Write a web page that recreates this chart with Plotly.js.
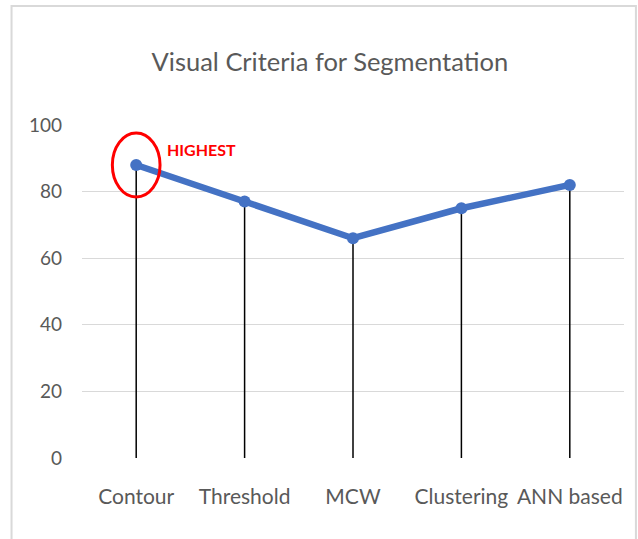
<!DOCTYPE html>
<html>
<head>
<meta charset="utf-8">
<script src="https://cdn.plot.ly/plotly-3.0.1.min.js"></script>
<style>
html,body{margin:0;padding:0;background:#fff;}
#chart{width:638px;height:539px;}
</style>
</head>
<body>
<div id="chart"></div>
<script>
const categories = ["Contour", "Threshold", "MCW", "Clustering", "ANN based"];
const values = [88, 77, 66, 75, 82];
const yTicks = [0, 20, 40, 60, 80, 100];
const chartTitle = "Visual Criteria for Segmentation";
const highlightLabel = "HIGHEST";

const FONT = "Lato, 'Open Sans', sans-serif";
const maxVal = Math.max(...values);
const maxIdx = values.indexOf(maxVal);

const trace = {
  x: categories,
  y: values,
  type: "scatter",
  mode: "lines+markers",
  line: {color: "#4472C4", width: 6.5},
  marker: {color: "#4472C4", size: 12},
  error_y: {
    type: "data",
    symmetric: false,
    array: values.map(() => 0),
    arrayminus: values,
    color: "#000000",
    thickness: 1.5,
    width: 0
  },
  hoverinfo: "x+y"
};

const layout = {
  width: 638,
  height: 539,
  margin: {l: 82, r: 14, t: 125, b: 81},
  paper_bgcolor: "#ffffff",
  plot_bgcolor: "#ffffff",
  showlegend: false,
  font: {family: FONT, color: "#595959", size: 18},
  title: {
    text: chartTitle,
    font: {family: FONT, size: 25.5, color: "#595959"},
    x: 0.517, xref: "container", xanchor: "center",
    y: 60, yref: "container", yanchor: "middle"
  },
  xaxis: {
    type: "category",
    range: [-0.5, categories.length - 0.5],
    showgrid: false,
    showline: false,
    zeroline: false,
    ticks: "",
    ticklabelstandoff: 24,
    tickfont: {family: FONT, size: 21, color: "#595959"}
  },
  yaxis: {
    range: [0, 100],
    tickvals: yTicks,
    ticktext: yTicks.map(String),
    showgrid: true,
    gridcolor: "#d9d9d9",
    gridwidth: 1.3,
    zeroline: false,
    showline: false,
    ticks: "",
    ticklabelstandoff: 19,
    tickfont: {family: FONT, size: 19, color: "#595959"}
  },
  shapes: [
    {
      type: "rect", xref: "paper", yref: "paper",
      x0: -0.130, x1: 1.022, y0: -0.30, y1: 1.357,
      line: {color: "#d9d9d9", width: 2}, fillcolor: "rgba(0,0,0,0)", layer: "below"
    },
    {
      type: "circle", xref: "x", yref: "y",
      x0: maxIdx - 0.22, x1: maxIdx + 0.22,
      y0: maxVal - 9.6, y1: maxVal + 9.6,
      line: {color: "#ff0000", width: 3}
    }
  ],
  annotations: [
    {
      x: categories[maxIdx], y: maxVal + 4.5, xref: "x", yref: "y",
      text: "<b>" + highlightLabel + "</b>",
      showarrow: false, xanchor: "left", yanchor: "middle",
      xshift: 29,
      font: {family: FONT, size: 16, color: "#ff0000"}
    }
  ]
};

Plotly.newPlot("chart", [trace], layout, {displayModeBar: false, staticPlot: true});
</script>
</body>
</html>
